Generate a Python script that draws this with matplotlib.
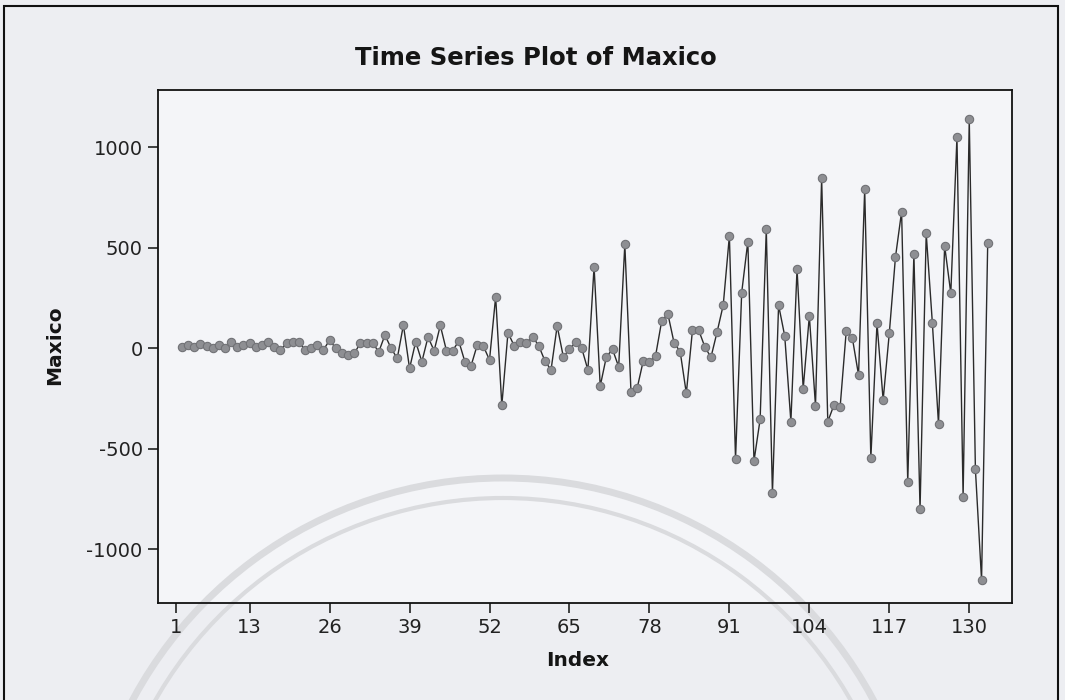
import numpy as np
import matplotlib.pyplot as plt
from matplotlib.patches import Rectangle, Arc

plt.rcParams['axes.unicode_minus'] = False

# Maxico series, first observation missing (plotted from index 2)
seg_a = [8, 16, 8, 21, 11, 3, 16, 0, 33, 8, 16, 25, 8, 16, 33, 8, -8, 25]
seg_b = [33, 33, -8, 0, 16, -8, 41, 0, -25, -33, -25, 25, 25, 25, -17, 66, 0, -50, 116, -100, 33]
seg_c = [-67, 56, -12, 114, -12, -12, 36, -67, -87, 16, 11, -58, 257, -284, 78, 13, 33, 28, 58, 13]
seg_d = [-62, -108, 111, -42, -5, 30, 0, -108, 406, -188, -42, -5, -92, 517, -216, -199, -62, -67, -37, 137, 171]
seg_e = [28, -17, -224, 91, 91, 8, -45, 81, 215, 559, -552, 277, 531, -561, -353, 592]
seg_f = [-721, 215, 61, -365, 395, -201, 161, -286, 846, -365, -282, -294, 86, 50, -133]
seg_g = [791, -547, 124, -257, 75, 453, 680, -664, 469, -801, 572, 127, -377, 509]
seg_h = [274, 1050, -738, 1139, -602, -1153, 522]

maxico = np.array(seg_a + seg_b + seg_c + seg_d + seg_e + seg_f + seg_g + seg_h)
index = np.arange(2, 2 + len(maxico))

x_ticks = [1, 13, 26, 39, 52, 65, 78, 91, 104, 117, 130]
y_ticks = [-1000, -500, 0, 500, 1000]

bg = '#edeef2'
fig = plt.figure(figsize=(10.65, 7), dpi=100, facecolor=bg)
ax = fig.add_axes([158 / 1065, 1 - 603 / 700, (1012 - 158) / 1065, (603 - 90) / 700])
ax.set_facecolor('#f4f5f8')

# faint emblem arcs printed under the chart
for r, lw in [(420, 5), (400, 3)]:
    ax.add_patch(Arc((503 / 1065, 1 - 898 / 700), 2 * r / 1065, 2 * r / 700,
                     theta1=25, theta2=155, transform=fig.transFigure,
                     color='#dadbde', lw=lw, zorder=1, clip_on=False))

ax.plot(index, maxico, color='#2b2b2b', lw=1.0, zorder=2)
ax.plot(index, maxico, 'o', ms=6, mfc='#8e8f93', mec='#717276', mew=0.8, zorder=3)

ax.set_xlim(-1.9, 136.95)
ax.set_ylim(-1267, 1285)
ax.set_xticks(x_ticks)
ax.set_yticks(y_ticks)
ax.tick_params(direction='out', length=7, width=1.2, labelsize=14,
               colors='#222222', top=False, right=False)
ax.tick_params(axis='x', pad=4)
ax.tick_params(axis='y', pad=4)
for s in ax.spines.values():
    s.set_linewidth(1.3)
    s.set_color('#111111')
    s.set_zorder(4)

fig.text(536 / 1065, 1 - 58 / 700, 'Time Series Plot of Maxico', ha='center', va='center',
         fontsize=17.5, fontweight='bold', color='#151515')
fig.text(578 / 1065, 1 - 660 / 700, 'Index', ha='center', va='center',
         fontsize=14.5, fontweight='bold', color='#151515')
fig.text(55 / 1065, 1 - 345 / 700, 'Maxico', ha='center', va='center', rotation=90,
         fontsize=14.5, fontweight='bold', color='#151515')

# window border
fig.patches.append(Rectangle((4 / 1065, -0.01), 1054 / 1065, 1 - 6 / 700 + 0.01,
                             transform=fig.transFigure, fill=False,
                             edgecolor='#111111', lw=1.5, zorder=0))

fig.savefig('out.png', dpi=100, facecolor=bg)
